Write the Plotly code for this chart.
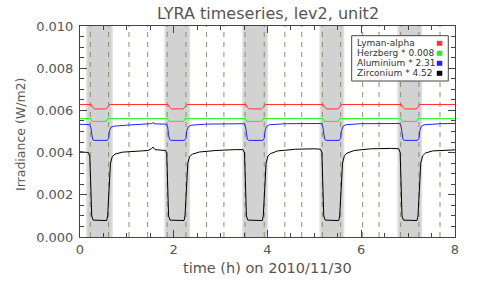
import plotly.graph_objects as go

# ---------------- data ----------------
band_start = [0.13, 1.80, 3.46, 5.11, 6.77]
band_end = [0.70, 2.35, 4.01, 5.64, 7.30]
event_times = [0.22, 0.61, 1.045, 1.443, 1.86, 2.26, 2.70, 3.07, 3.52, 3.93,
               4.37, 4.73, 5.17, 5.56, 6.03, 6.38, 6.84, 7.23, 7.68]

lya_t = [0.00, 0.24, 0.27, 0.31, 0.55, 0.58, 0.63, 1.88, 1.91, 1.95, 2.20, 2.23, 2.28,
         3.54, 3.57, 3.61, 3.87, 3.90, 3.95, 5.19, 5.22, 5.26, 5.50, 5.53, 5.58,
         6.86, 6.89, 6.93, 7.17, 7.20, 7.25, 8.00]
lya_v = [0.00628, 0.00628, 0.00615, 0.00607, 0.00607, 0.00613, 0.00628,
         0.00628, 0.00615, 0.00607, 0.00607, 0.00613, 0.00628,
         0.00628, 0.00615, 0.00607, 0.00607, 0.00613, 0.00628,
         0.00628, 0.00615, 0.00607, 0.00607, 0.00613, 0.00628,
         0.00628, 0.00615, 0.00607, 0.00607, 0.00613, 0.00628, 0.00628]

her_t = [0.00, 0.23, 0.26, 0.56, 0.59, 1.40, 1.45, 1.50, 1.87, 1.90, 2.21, 2.24,
         3.53, 3.56, 3.88, 3.91, 5.18, 5.21, 5.51, 5.54, 6.85, 6.88, 7.18, 7.21, 8.00]
her_v = [0.00561, 0.00561, 0.00548, 0.00548, 0.00561, 0.00561, 0.00564, 0.00561,
         0.00561, 0.00548, 0.00548, 0.00561, 0.00561, 0.00548, 0.00548, 0.00561,
         0.00561, 0.00548, 0.00548, 0.00561, 0.00561, 0.00548, 0.00548, 0.00561, 0.00561]

alu_t = [0.00, 0.20, 0.23, 0.25, 0.27, 0.30, 0.58, 0.61, 0.63, 0.66, 0.72, 1.00, 1.40,
         1.52, 1.56, 1.60, 1.84,
         1.87, 1.89, 1.91, 1.94, 2.23, 2.26, 2.28, 2.31, 2.37, 2.70, 3.50,
         3.53, 3.55, 3.57, 3.60, 3.90, 3.93, 3.95, 3.98, 4.04, 4.40, 5.15,
         5.18, 5.20, 5.22, 5.25, 5.53, 5.56, 5.58, 5.61, 5.67, 6.00, 6.82,
         6.85, 6.87, 6.89, 6.92, 7.20, 7.23, 7.25, 7.28, 7.34, 7.70, 8.00]
alu_v = [0.00534, 0.00533, 0.00520, 0.00480, 0.00462, 0.00458, 0.00458, 0.00468, 0.00505,
         0.00520, 0.00525, 0.00530, 0.00533, 0.00537, 0.00542, 0.00536, 0.00535,
         0.00522, 0.00482, 0.00463, 0.00458, 0.00458, 0.00468, 0.00505, 0.00522, 0.00530,
         0.00535, 0.00537,
         0.00524, 0.00482, 0.00463, 0.00458, 0.00458, 0.00468, 0.00505, 0.00524, 0.00532,
         0.00537, 0.00538,
         0.00524, 0.00482, 0.00463, 0.00458, 0.00458, 0.00468, 0.00505, 0.00524, 0.00532,
         0.00537, 0.00538,
         0.00524, 0.00482, 0.00463, 0.00458, 0.00458, 0.00468, 0.00505, 0.00524, 0.00532,
         0.00537, 0.00538]

zr_t = [0.00, 0.12, 0.18, 0.21, 0.23, 0.25, 0.28, 0.57, 0.59, 0.62, 0.65, 0.69, 0.75,
        0.90, 1.20, 1.45, 1.52, 1.56, 1.60, 1.75, 1.83,
        1.85, 1.87, 1.89, 1.92, 2.22, 2.24, 2.27, 2.30, 2.34, 2.40, 2.55, 2.90, 3.30, 3.48,
        3.51, 3.53, 3.55, 3.58, 3.89, 3.91, 3.94, 3.97, 4.01, 4.07, 4.22, 4.60, 5.00, 5.13,
        5.16, 5.18, 5.20, 5.23, 5.52, 5.54, 5.57, 5.60, 5.64, 5.70, 5.85, 6.20, 6.65, 6.80,
        6.83, 6.85, 6.87, 6.90, 7.19, 7.21, 7.24, 7.27, 7.31, 7.37, 7.52, 7.80, 8.00]
zr_v = [0.00404, 0.00402, 0.00400, 0.00380, 0.00200, 0.00100, 0.00080, 0.00078, 0.00100,
        0.00250, 0.00350, 0.00382, 0.00393, 0.00402, 0.00407, 0.00410, 0.00418, 0.00426,
        0.00414, 0.00412, 0.00410,
        0.00395, 0.00200, 0.00100, 0.00080, 0.00078, 0.00100, 0.00250, 0.00350, 0.00382,
        0.00393, 0.00403, 0.00410, 0.00414, 0.00414,
        0.00398, 0.00200, 0.00100, 0.00080, 0.00078, 0.00100, 0.00250, 0.00350, 0.00384,
        0.00396, 0.00408, 0.00416, 0.00418, 0.00416,
        0.00400, 0.00200, 0.00100, 0.00080, 0.00078, 0.00100, 0.00250, 0.00350, 0.00385,
        0.00398, 0.00410, 0.00418, 0.00420, 0.00418,
        0.00400, 0.00200, 0.00100, 0.00080, 0.00078, 0.00100, 0.00250, 0.00350, 0.00385,
        0.00398, 0.00408, 0.00413, 0.00413]

legend_labels = ["Lyman-alpha", "Herzberg * 0.008", "Aluminium * 2.31", "Zirconium * 4.52"]
series_colors = ["#ff3333", "#22ee22", "#2222ff", "#000000"]

title_text = "LYRA timeseries, lev2, unit2"
x_title = "time (h) on 2010/11/30"
y_title = "Irradiance (W/m2)"

# ---------------- layout geometry ----------------
W, H = 479, 288
PL, PR, PT, PB = 80, 455, 26, 237  # plot area in pixels
ML, MT = PL, PT
PW, PH = PR - PL, PB - PT
MR, MB = W - ML - PW, H - MT - PH


def px(x):
    return (x - PL) / PW


def py(y):
    return (PB - y) / PH


FONT = "DejaVu Sans"
TXT = "#555555"

fig = go.Figure()

shapes = []
for s, e in zip(band_start, band_end):
    shapes.append(dict(type="rect", xref="x", yref="paper", x0=s, x1=e, y0=0, y1=1,
                       fillcolor="#e0e0e0", line=dict(width=0), layer="below"))
    shapes.append(dict(type="rect", xref="x", yref="paper", x0=s + 0.03, x1=e - 0.03,
                       y0=0, y1=1, fillcolor="#d2d2d2", line=dict(width=0), layer="below"))
for t in event_times:
    shapes.append(dict(type="line", xref="x", yref="paper", x0=t, x1=t, y0=0, y1=1,
                       line=dict(color="#8f8f70", width=1, dash="5px,5px"), layer="below"))

series = [(lya_t, lya_v), (her_t, her_v), (alu_t, alu_v), (zr_t, zr_v)]
for (t, v), c, name in zip(series, series_colors, legend_labels):
    fig.add_trace(go.Scatter(x=t, y=v, mode="lines", line=dict(color=c, width=1),
                             name=name, showlegend=False, hoverinfo="skip"))

# legend box
shapes.append(dict(type="rect", xref="paper", yref="paper", x0=px(351.7), x1=px(448.3),
                   y0=py(81), y1=py(35.7), fillcolor="white",
                   line=dict(color="#444444", width=1), layer="above"))
annotations = []
row_y = [43.3, 53.3, 63.3, 73.3]
for lab, c, yy in zip(legend_labels, series_colors, row_y):
    annotations.append(dict(xref="paper", yref="paper", x=px(355), y=py(yy), text=lab,
                            showarrow=False, xanchor="left", yanchor="middle",
                            font=dict(family=FONT, size=9, color="#333333")))
    shapes.append(dict(type="rect", xref="paper", yref="paper", x0=px(436.8), x1=px(442.3),
                       y0=py(yy + 2.5), y1=py(yy - 2.5), fillcolor=c,
                       line=dict(width=0), layer="above"))

annotations.append(dict(xref="paper", yref="paper", x=0.5, y=py(13.3), text=title_text,
                        showarrow=False, xanchor="center", yanchor="middle",
                        font=dict(family=FONT, size=16, color=TXT)))
annotations.append(dict(xref="paper", yref="paper", x=0.5, y=py(268.3), text=x_title,
                        showarrow=False, xanchor="center", yanchor="middle",
                        font=dict(family=FONT, size=14.5, color=TXT)))
annotations.append(dict(xref="paper", yref="paper", x=px(20), y=py(135), text=y_title,
                        showarrow=False, xanchor="center", yanchor="middle", textangle=-90,
                        font=dict(family=FONT, size=12.5, color=TXT)))

axis_common = dict(showline=True, linecolor="#444444", linewidth=1, mirror="ticks",
                   ticks="inside", ticklen=7, tickcolor="#444444", showgrid=False,
                   zeroline=False, automargin=False,
                   tickfont=dict(family=FONT, size=13, color=TXT))

fig.update_layout(
    width=W, height=H, margin=dict(l=ML, r=MR, t=MT, b=MB, autoexpand=False),
    paper_bgcolor="white", plot_bgcolor="white", hovermode=False,
    shapes=shapes, annotations=annotations, showlegend=False,
    xaxis=dict(range=[0, 8], tickvals=[0, 2, 4, 6, 8], ticktext=["0", "2", "4", "6", "8"],
               minor=dict(dtick=0.5, ticks="inside", ticklen=4, tickcolor="#444444"),
               **axis_common),
    yaxis=dict(range=[0, 0.010], dtick=0.002, tickformat=".3f", ticklabelstandoff=3,
               minor=dict(dtick=0.0005, ticks="inside", ticklen=4, tickcolor="#444444"),
               **axis_common),
)

fig.write_html("out.html", config={"displayModeBar": False, "staticPlot": True},
               post_script="document.body.style.margin='0';document.body.style.overflow='hidden';")
